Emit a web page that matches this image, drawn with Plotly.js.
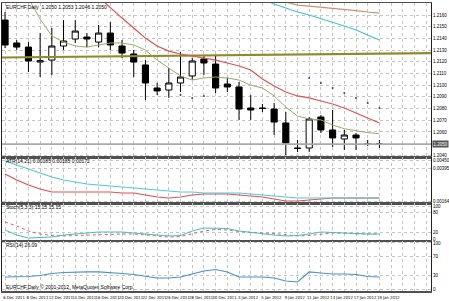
<!DOCTYPE html>
<html><head><meta charset="utf-8">
<script src="https://cdn.plot.ly/plotly-3.0.1.min.js"></script>
<style>html,body{margin:0;padding:0;background:#fff}#c{width:449px;height:301px}</style>
</head><body><div id="c"></div>
<script>
const dates = ["6 Dec 2011","7 Dec 2011","8 Dec 2011","9 Dec 2011","12 Dec 2011","13 Dec 2011","14 Dec 2011","15 Dec 2011","16 Dec 2011","19 Dec 2011","20 Dec 2011","21 Dec 2011","22 Dec 2011","23 Dec 2011","26 Dec 2011","27 Dec 2011","28 Dec 2011","29 Dec 2011","30 Dec 2011","2 Jan 2012","3 Jan 2012","4 Jan 2012","5 Jan 2012","6 Jan 2012","9 Jan 2012","10 Jan 2012","11 Jan 2012","12 Jan 2012","13 Jan 2012","16 Jan 2012","17 Jan 2012","18 Jan 2012","19 Jan 2012"];
const openP  = [1.21557,1.21361,1.21326,1.21198,1.21215,1.21335,1.21395,1.21412,1.21369,1.21446,1.21335,1.21267,1.21173,1.20976,1.20959,1.21019,1.21079,1.21224,1.21181,1.21010,1.20985,1.20805,1.20805,1.20796,1.20677,1.20463,1.20463,1.20728,1.20617,1.20540,1.20574,1.20497,1.20497];
const highP  = [1.21626,1.21386,1.21369,1.21446,1.21489,1.21557,1.21557,1.21446,1.21515,1.21540,1.21386,1.21301,1.21215,1.21019,1.21147,1.21284,1.21232,1.21250,1.21258,1.21062,1.21027,1.20916,1.20839,1.20848,1.20771,1.20532,1.20728,1.20745,1.20788,1.20617,1.20591,1.20532,1.20532];
const lowP   = [1.21318,1.21301,1.21113,1.21070,1.21087,1.21301,1.21361,1.21326,1.21326,1.21301,1.21232,1.21070,1.20874,1.20916,1.20891,1.20942,1.21044,1.21087,1.20933,1.20942,1.20703,1.20703,1.20771,1.20574,1.20403,1.20429,1.20429,1.20591,1.20472,1.20446,1.20446,1.20480,1.20463];
const closeP = [1.21344,1.21326,1.21207,1.21210,1.21335,1.21378,1.21463,1.21395,1.21446,1.21344,1.21275,1.21198,1.21019,1.20951,1.21019,1.21070,1.21207,1.21190,1.20976,1.20985,1.20796,1.20788,1.20801,1.20685,1.20506,1.20459,1.20711,1.20617,1.20549,1.20574,1.20549,1.20495,1.20496];
const maRed   = [null,null,null,null,null,null,null,null,1.21754,1.21660,1.21574,1.21489,1.21403,1.21335,1.21292,1.21267,1.21250,1.21232,1.21215,1.21190,1.21164,1.21130,1.21053,1.20993,1.20942,1.20908,1.20891,1.20865,1.20839,1.20805,1.20762,1.20719,1.20677];
const maGreen = [null,null,1.21745,1.21566,1.21421,1.21369,1.21335,1.21326,1.21344,1.21361,1.21361,1.21344,1.21301,1.21215,1.21147,1.21079,1.21044,1.21062,1.21070,1.21062,1.21044,1.21001,1.20976,1.20908,1.20813,1.20736,1.20711,1.20703,1.20659,1.20628,1.20611,1.20594,1.20585];
const maCyan  = [null,null,null,null,null,null,null,null,null,null,null,null,null,null,null,null,null,null,null,null,null,null,1.21737,1.21694,1.21660,1.21626,1.21600,1.21570,1.21540,1.21506,1.21472,1.21429,1.21386];
const maBrown = [null,null,null,null,null,null,null,null,null,null,null,null,null,null,null,null,null,null,null,null,null,null,null,1.21737,1.21711,1.21685,1.21677,1.21668,1.21660,1.21651,1.21638,1.21626,1.21617];
const sar     = [null,null,null,null,null,null,null,null,null,null,null,null,null,null,null,1.20916,1.20891,1.20908,null,null,null,null,null,null,null,null,1.21062,1.21019,1.20976,1.20933,1.20891,1.20848,1.20805];
const trendIdx   = [-0.3, 36.4];
const trendPrice = [1.21237, 1.21275];
const ind2Cyan = [0.00444,0.00416,0.00388,0.00360,0.00332,0.00311,0.00297,0.00283,0.00276,0.00269,0.00262,0.00255,0.00248,0.00241,0.00234,0.00227,0.00227,0.00220,0.00220,0.00220,0.00220,0.00213,0.00206,0.00199,0.00192,0.00185,0.00185,0.00185,0.00185,0.00185,0.00185,0.00185,0.00185];
const ind2Red  = [0.00353,0.00311,0.00276,0.00248,0.00227,0.00227,0.00227,0.00227,0.00227,0.00227,0.00220,0.00220,0.00206,0.00192,0.00185,0.00192,0.00206,0.00213,0.00213,0.00213,0.00206,0.00199,0.00192,0.00178,0.00164,0.00164,0.00171,0.00178,0.00185,0.00185,0.00185,0.00185,0.00185];
const stochK = [27.3,12.1,3.0,4.5,6.1,12.1,15.2,18.2,21.2,21.2,21.2,18.2,15.2,12.1,9.1,10.6,24.2,33.3,33.3,31.8,24.2,19.7,16.7,12.1,9.1,10.6,15.2,21.2,19.7,18.2,15.2,15.2,15.2];
const stochD = [51.5,39.4,24.2,15.2,10.6,9.1,10.6,12.1,12.1,13.6,15.2,15.2,12.1,9.1,6.1,7.6,15.2,24.2,28.8,27.3,22.7,19.7,18.2,16.7,12.1,9.1,10.6,15.2,18.2,18.2,15.2,15.2,15.2];
const rsi = [26.1,26.1,27.2,29.3,33.7,35.9,37.0,37.0,37.0,35.9,33.7,31.5,27.2,23.9,23.9,26.1,32.6,39.1,42.4,37.0,26.1,26.1,26.1,23.9,17.4,15.2,37.0,34.8,32.6,32.6,31.5,27.2,26.1];
const priceTicks = [1.2040,1.2060,1.2070,1.2080,1.2090,1.2100,1.2110,1.2120,1.2130,1.2140,1.2150,1.2160];
const ind2Ticks = [0.00450,0.00395,0.00164];
const stochTicks = [0,20,80,100];
const rsiTicks = [0,30,70,100];

const idx = dates.map((d,i)=>i);
const lastClose = closeP[closeP.length-1];
const xr = [-0.26, 36.41];
const fontF = 'Liberation Sans, Arial, sans-serif';
const narrowF = 'Liberation Sans Narrow, DejaVu Sans Condensed, Liberation Sans, sans-serif';
const gridC = '#c4c4c4';
const labelIdx = idx.filter(i=>i%2===0);

function xax(extra){
  return Object.assign({range:xr, showgrid:true, gridcolor:gridC, griddash:'dot', gridwidth:1,
    tickmode:'array', tickvals:labelIdx, ticktext:labelIdx.map(i=>dates[i]),
    showticklabels:false, ticks:'', zeroline:false,
    minor:{tickmode:'linear', tick0:0, dtick:1, showgrid:true, gridcolor:gridC, griddash:'dot', gridwidth:1},
    showline:true, mirror:true, linecolor:'#505050', linewidth:1.5, fixedrange:true}, extra||{});
}
function yax(extra){
  return Object.assign({side:'right', showgrid:true, gridcolor:gridC, griddash:'dot', gridwidth:1,
    zeroline:false, ticks:'', tickfont:{size:4.5, color:'#000', family:fontF},
    showline:true, mirror:true, linecolor:'#202020', linewidth:1, fixedrange:true, ticklabelstandoff:0}, extra||{});
}

const traces = [
  {type:'scatter', mode:'lines', x:trendIdx, y:trendPrice, line:{color:'#8c8c2c', width:2.2}, xaxis:'x', yaxis:'y', hoverinfo:'skip'},
  {type:'scatter', mode:'lines', x:[xr[0], xr[1]], y:[lastClose,lastClose], line:{color:'#a8a8a8', width:1.6}, xaxis:'x', yaxis:'y', hoverinfo:'skip'},
  {type:'scatter', mode:'lines', x:idx, y:maBrown, line:{color:'#d0906c', width:1.2}, xaxis:'x', yaxis:'y', hoverinfo:'skip'},
  {type:'scatter', mode:'lines', x:idx, y:maCyan, line:{color:'#40c4d4', width:1.2}, xaxis:'x', yaxis:'y', hoverinfo:'skip'},
  {type:'scatter', mode:'lines', x:idx, y:maRed, line:{color:'#e05050', width:1.2}, xaxis:'x', yaxis:'y', hoverinfo:'skip'},
  {type:'scatter', mode:'lines', x:idx, y:maGreen, line:{color:'#9aab6a', width:1}, xaxis:'x', yaxis:'y', hoverinfo:'skip'},
  {type:'candlestick', x:idx, open:openP, high:highP, low:lowP, close:closeP, xaxis:'x', yaxis:'y',
    increasing:{line:{color:'#000', width:1}, fillcolor:'#fff'},
    decreasing:{line:{color:'#000', width:1}, fillcolor:'#000'}, whiskerwidth:0, hoverinfo:'skip'},
  {type:'scatter', mode:'markers', x:idx, y:sar, marker:{color:'#3c3c9c', size:2}, xaxis:'x', yaxis:'y', hoverinfo:'skip'},
  {type:'scatter', mode:'lines', x:idx, y:ind2Red, line:{color:'#e05050', width:1.2}, xaxis:'x2', yaxis:'y2', hoverinfo:'skip'},
  {type:'scatter', mode:'lines', x:idx, y:ind2Cyan, line:{color:'#50c8d8', width:1.2}, xaxis:'x2', yaxis:'y2', hoverinfo:'skip'},
  {type:'scatter', mode:'lines', x:idx, y:stochD, line:{color:'#e06060', width:1, dash:'dot'}, xaxis:'x3', yaxis:'y3', hoverinfo:'skip'},
  {type:'scatter', mode:'lines', x:idx, y:stochK, line:{color:'#40c0c0', width:1}, xaxis:'x3', yaxis:'y3', hoverinfo:'skip'},
  {type:'scatter', mode:'lines', x:idx, y:rsi, line:{color:'#4a90d0', width:1.2}, xaxis:'x4', yaxis:'y4', hoverinfo:'skip'}
];

const f = (y)=> (291-y)/288;
const ann = (txt, ypx, extra)=> Object.assign({xref:'paper', yref:'paper', x:0, xshift:2, y:f(ypx), xanchor:'left', yanchor:'middle', text:txt, showarrow:false, font:{size:5, color:'#000', family:fontF}}, extra||{});

const layout = {
  width:449, height:301, margin:{l:2, r:18, t:3, b:10},
  paper_bgcolor:'#fff', plot_bgcolor:'#fff', showlegend:false, boxgap:0.25,
  xaxis: xax({domain:[0,1], anchor:'y', rangeslider:{visible:false}}),
  xaxis2: xax({domain:[0,1], anchor:'y2'}),
  xaxis3: xax({domain:[0,1], anchor:'y3'}),
  xaxis4: xax({domain:[0,1], anchor:'y4', showticklabels:true, tickangle:0, tickfont:{size:4.2, color:'#000', family:narrowF}, ticklabelshift:9, ticklabelstandoff:1}),
  yaxis: yax({domain:[f(157), 1], anchor:'x', range:[1.20386, 1.21703], tickmode:'array', tickvals:priceTicks, ticktext:priceTicks.map(v=>v.toFixed(4))}),
  yaxis2: yax({domain:[f(203), f(157)], anchor:'x2', range:[0.0015, 0.00472], tickmode:'array', tickvals:ind2Ticks, ticktext:ind2Ticks.map(v=>v.toFixed(5))}),
  yaxis3: yax({domain:[f(240), f(203)], anchor:'x3', range:[-3.0, 109.1], tickmode:'array', tickvals:stochTicks, ticktext:stochTicks.map(String)}),
  yaxis4: yax({domain:[0, f(241)], anchor:'x4', range:[-4.35, 104.3], tickmode:'array', tickvals:rsiTicks, ticktext:rsiTicks.map(String)}),
  annotations:[
    ann('EURCHF,Daily  1.2050 1.2053 1.2046 1.2050', 7),
    ann('ATR(14,21) 0.00185 0.00185 0.00172', 161),
    ann('Stoch(5,3,3) 15.15 15.15', 207),
    ann('RSI(14) 26.09', 245),
    ann('EURCHF,Daily © 2001-2012, MetaQuotes Software Corp.', 287),
    {xref:'paper', yref:'y', x:1, xshift:1, y:lastClose, xanchor:'left', yanchor:'middle', text:lastClose.toFixed(4), showarrow:false, bgcolor:'#555', borderpad:0.5, font:{size:4.5, color:'#fff', family:fontF}}
  ]
};
Plotly.newPlot('c', traces, layout, {staticPlot:true, displayModeBar:false});
</script></body></html>
